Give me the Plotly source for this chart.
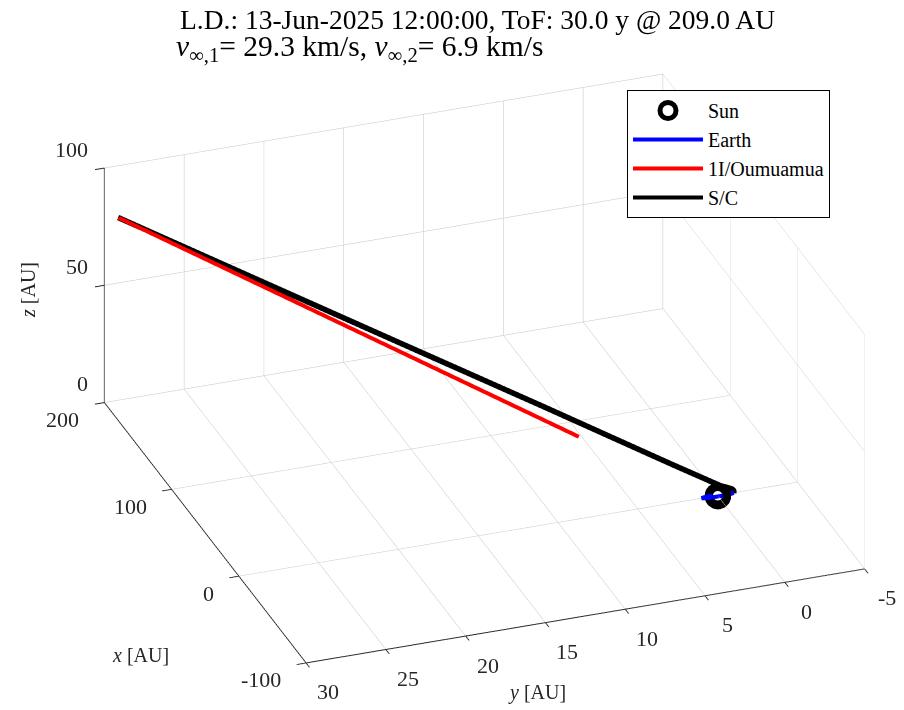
import plotly.graph_objects as go

# ---------------- data (AU) ----------------
sun_x = [0.0]
sun_y = [0.0]
sun_z = [0.0]

earth_x = [1.0, 0.87, 0.5, 0.0, -0.5, -0.87, -1.0, -0.87, -0.5, 0.0, 0.5, 0.87, 1.0]
earth_y = [0.0, 0.5, 0.87, 1.0, 0.87, 0.5, 0.0, -0.5, -0.87, -1.0, -0.87, -0.5, 0.0]
earth_z = [0.0] * 13

oum_x = [45.0, 195.0]
oum_y = [6.8, 29.35]
oum_z = [16.2, 80.0]

sc_x = [-0.14, 0.5, 1.5, 3.0, 4.5, 19.7, 61.7, 109.3, 156.9, 195.0]
sc_y = [-0.99, -1.05, -1.0, -0.7, -0.4, 2.0, 8.5, 15.96, 23.4, 29.35]
sc_z = [0.0, 0.5, 1.0, 1.6, 2.0, 8.2, 25.4, 44.9, 64.4, 80.0]

x_ticks = [-100, 0, 100, 200]
y_ticks = [-5, 0, 5, 10, 15, 20, 25, 30]
z_ticks = [0, 50, 100]
x_range = [-100, 200]
y_range = [-5, 30]
z_range = [0, 100]

title_line1 = "L.D.: 13-Jun-2025 12:00:00, ToF: 30.0 y @ 209.0 AU"
title_line2 = "<i>v</i><sub>∞,1</sub>= 29.3 km/s, <i>v</i><sub>∞,2</sub>= 6.9 km/s"

FONT = "Liberation Serif"
W, H = 896, 702   # page body has an 8 px margin


def px(xs):
    return (xs - 8) / W


def py(ys):
    return 1 - (ys - 8) / H


fig = go.Figure()
fig.add_trace(go.Scatter3d(x=sun_x, y=sun_y, z=sun_z, mode="markers",
                           marker=dict(symbol="circle", size=15.5, color="#000000"),
                           name="Sun", showlegend=False, hoverinfo="skip"))
fig.add_trace(go.Scatter3d(x=sun_x, y=sun_y, z=sun_z, mode="markers",
                           marker=dict(symbol="circle", size=5.5, color="#ffffff"),
                           name="Sun", showlegend=False, hoverinfo="skip"))
fig.add_trace(go.Scatter3d(x=earth_x, y=earth_y, z=earth_z, mode="lines",
                           line=dict(color="#0000ff", width=8), name="Earth",
                           showlegend=False))
fig.add_trace(go.Scatter3d(x=oum_x, y=oum_y, z=oum_z, mode="lines",
                           line=dict(color="#ff0000", width=8), name="1I/Oumuamua",
                           showlegend=False))
fig.add_trace(go.Scatter3d(x=sc_x, y=sc_y, z=sc_z, mode="lines",
                           line=dict(color="#000000", width=11), name="S/C",
                           showlegend=False))

# legend entries
fig.add_trace(go.Scatter(x=[None], y=[None], mode="markers", name="Sun",
                         marker=dict(symbol="circle", size=16, color="#ffffff",
                                     line=dict(color="#000000", width=6))))
fig.add_trace(go.Scatter(x=[None], y=[None], mode="lines", name="Earth",
                         line=dict(color="#0000ff", width=4)))
fig.add_trace(go.Scatter(x=[None], y=[None], mode="lines", name="1I/Oumuamua",
                         line=dict(color="#ff0000", width=4)))
fig.add_trace(go.Scatter(x=[None], y=[None], mode="lines", name="S/C",
                         line=dict(color="#000000", width=4)))

axcommon = dict(showbackground=False, gridcolor="#c4c4c4", gridwidth=1,
                showline=True, linecolor="#262626", linewidth=2,
                ticks="outside", ticklen=10, tickwidth=2, tickcolor="#262626",
                zeroline=False, showspikes=False, showticklabels=False,
                title=dict(text=""))

S = 1.739  # orthographic zoom is carried by the aspect ratio
k = 3.0
eye = dict(x=-0.8321 * k, y=0.3005 * k, z=0.4662 * k)

tick_font = dict(family=FONT, size=22, color="#262626")
scene_ann = []
for v in x_ticks:
    scene_ann.append(dict(x=v, y=y_range[1], z=z_range[0], text=str(v),
                          showarrow=False, xanchor="right", yanchor="middle",
                          xshift=-23, yshift=-17, font=tick_font))
for v in y_ticks:
    scene_ann.append(dict(x=x_range[0], y=v, z=z_range[0], text=str(v),
                          showarrow=False, xanchor="center", yanchor="middle",
                          xshift=22, yshift=-29, font=tick_font))
for v in z_ticks:
    scene_ann.append(dict(x=x_range[1], y=y_range[1], z=v, text=str(v),
                          showarrow=False, xanchor="right", yanchor="middle",
                          xshift=-14, yshift=19, font=tick_font))

fig.update_layout(
    width=W, height=H,
    paper_bgcolor="white", plot_bgcolor="white",
    margin=dict(l=0, r=0, t=0, b=0),
    xaxis=dict(visible=False), yaxis=dict(visible=False),
    scene=dict(
        domain=dict(x=[0.0636, 1.0], y=[0.0, 0.973]),
        xaxis=dict(range=x_range, tickvals=x_ticks, **axcommon),
        yaxis=dict(range=y_range, tickvals=y_ticks, **axcommon),
        zaxis=dict(range=z_range, tickvals=z_ticks, **axcommon),
        aspectmode="manual", aspectratio=dict(x=S, y=S, z=0.4464 * S),
        camera=dict(eye=eye, up=dict(x=0, y=0, z=1), center=dict(x=0, y=0, z=0),
                    projection=dict(type="orthographic")),
        annotations=scene_ann,
    ),
    showlegend=True,
    legend=dict(x=px(627), y=py(90), xanchor="left", yanchor="top",
                bgcolor="white", bordercolor="#000000", borderwidth=1,
                itemwidth=70,
                font=dict(family=FONT, size=20, color="#000000")),
    annotations=[
        dict(text=title_line1, x=px(178), y=py(19), xref="paper", yref="paper",
             xanchor="left", yanchor="middle", showarrow=False,
             font=dict(family=FONT, size=27.5, color="#000000")),
        dict(text=title_line2, x=px(174), y=py(48), xref="paper", yref="paper",
             xanchor="left", yanchor="middle", showarrow=False,
             font=dict(family=FONT, size=29.5, color="#000000")),
        dict(text="<i>x</i> [AU]", x=px(140), y=py(655), xref="paper", yref="paper",
             xanchor="center", yanchor="middle", showarrow=False,
             font=dict(family=FONT, size=20, color="#262626")),
        dict(text="<i>y</i> [AU]", x=px(537), y=py(692), xref="paper", yref="paper",
             xanchor="center", yanchor="middle", showarrow=False,
             font=dict(family=FONT, size=20, color="#262626")),
        dict(text="<i>z</i> [AU]", x=px(28), y=py(290), xref="paper", yref="paper",
             xanchor="center", yanchor="middle", showarrow=False, textangle=-90,
             font=dict(family=FONT, size=20, color="#262626")),
    ],
)

fig.write_html("out.html")
